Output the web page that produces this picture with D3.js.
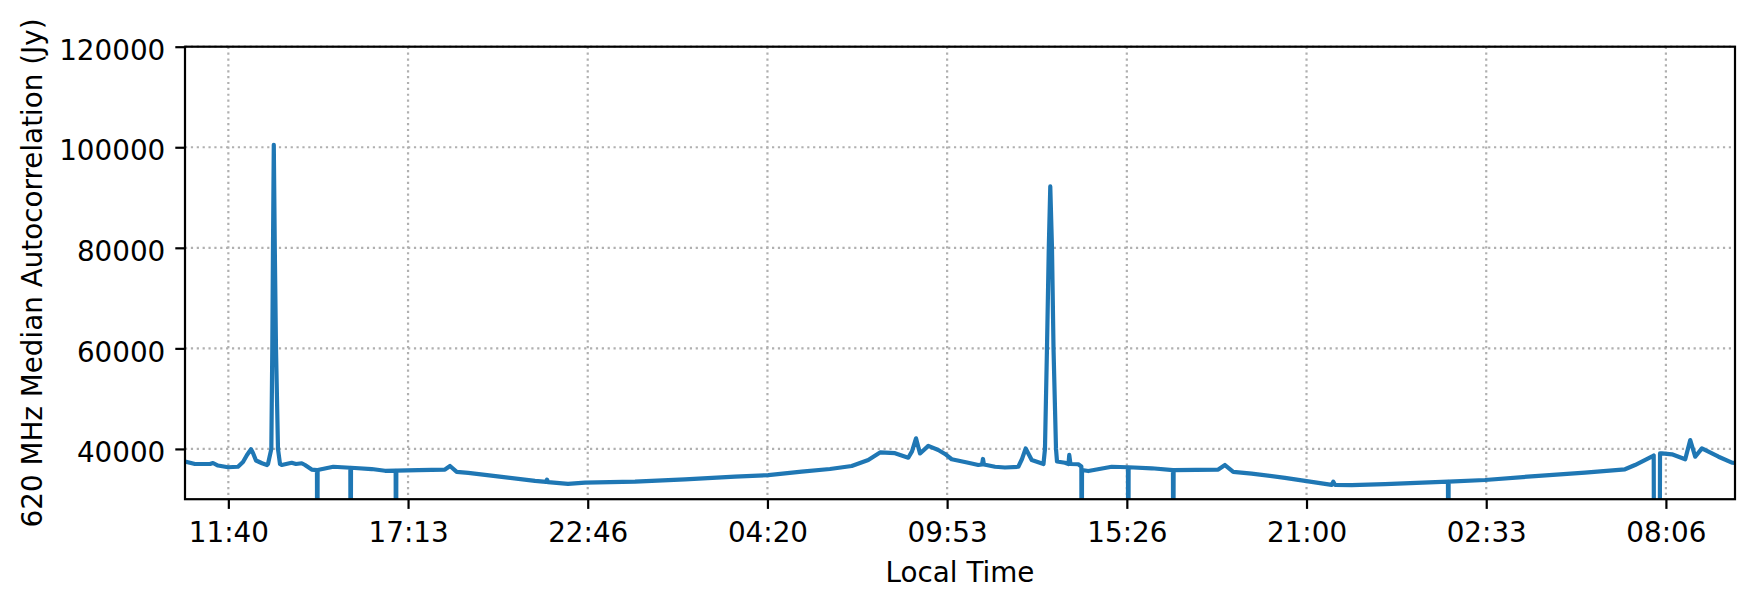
<!DOCTYPE html>
<html>
<head>
<meta charset="utf-8">
<script src="https://cdn.jsdelivr.net/npm/d3@7"></script>
<style>
  html, body { margin: 0; padding: 0; background: #ffffff; }
  svg { display: block; }
  text { font-family: "DejaVu Sans", sans-serif; fill: #000; }
</style>
</head>
<body>
<svg id="chart" width="1758" height="607"></svg>
<script>
// ---- data (hours since 10:20 local time) ----
const timeHours = [
  0, 0.309, 0.773, 0.866, 1.020, 1.330, 1.638, 1.793, 1.917, 2.041, 2.102, 2.195, 2.381, 2.535,
  2.566, 2.669, 2.699, 2.720, 2.745, 2.776, 2.813, 2.875, 2.937,
  2.990, 3.298, 3.431, 3.608, 3.710, 3.917,
  4.080, 4.090, 4.100,
  4.585, 5.112, 5.122, 5.132,
  5.772, 6.184, 6.513, 6.523, 6.533,
  7.213, 8.038, 8.193, 8.400, 8.758, 9.792, 10.821, 11.161, 11.192, 11.223, 11.841, 12.366,
  13.913, 15.458, 17.003, 18.034, 19.066, 19.940, 20.612, 21.124, 21.487, 21.950, 22.361,
  22.476, 22.600, 22.724, 22.980, 23.289, 23.496, 23.703, 24.216, 24.526, 24.640, 24.670, 24.701,
  25.043, 25.351, 25.763, 25.877, 25.991, 26.177,
  26.541, 26.587, 26.649, 26.705, 26.751, 26.804, 26.851, 26.928, 26.959,
  27.205, 27.314, 27.338, 27.375, 27.617,
  27.712, 27.722, 27.732,
  27.926, 28.650,
  29.153, 29.163, 29.173,
  29.886,
  30.544, 30.554, 30.564,
  31.945, 32.152, 32.408, 32.978, 34.008, 34.626, 35.451, 35.501, 35.553, 36.069, 37.100,
  39.046, 39.056, 39.066,
  40.191, 41.737, 43.283, 44.519, 44.829, 45.345, 45.407,
  45.423, 45.586,
  45.602, 45.660, 45.970, 46.381, 46.536, 46.690, 46.897, 47.411, 47.825, 47.920
];
const autocorrJy = [
  37500, 37000, 37000, 37200, 36700, 36350, 36450, 37400, 38800, 39950, 39200, 37700, 37150, 36800,
  37000, 40000, 60000, 80000, 100500, 80000, 60000, 40000, 37000,
  36800, 37250, 37000, 37150, 36800, 35900,
  35800, 0, 35800,
  36450, 36250, 0, 36250,
  36000, 35650, 35700, 0, 35700,
  35800, 35900, 36600, 35450, 35250, 34450, 33650, 33450, 33900, 33400, 33050, 33300,
  33480, 33950, 34480, 34800, 35470, 36000, 36600, 37800, 39300, 39150, 38250,
  39500, 42100, 39100, 40600, 39800, 39000, 37950, 37250, 36800, 36900, 38000, 36900,
  36450, 36300, 36450, 38000, 40100, 37800,
  37000, 40000, 60000, 80000, 92200, 80000, 60000, 40000, 37500,
  37250, 37000, 38800, 37000, 36950,
  36500, 0, 35800,
  35600, 36450,
  36350, 0, 36350,
  36150,
  35800, 0, 35800,
  35900, 36800, 35450, 35100, 34250, 33650, 32850, 33500, 32850, 32800, 33000,
  33480, 0, 33480,
  33820, 34600, 35270, 35950, 36800, 38450, 38700,
  0, 0,
  39100, 39130, 38930, 37950, 41770, 38450, 40120, 38450, 37260, 37200
];
const xTickHours = [1.340, 6.896, 12.451, 18.007, 23.562, 29.118, 34.673, 40.229, 45.784];
const xTickLabels = ["11:40", "17:13", "22:46", "04:20", "09:53", "15:26", "21:00", "02:33", "08:06"];
const yTickValues = [40000, 60000, 80000, 100000, 120000];
const xDomain = [0, 47.92];
const yDomain = [30000, 120000];

// ---- layout ----
const L = 185, R = 1735, T = 46.7, B = 499.2;
const FS = 27.8;
const svg = d3.select("#chart");

const x = d3.scaleLinear().domain(xDomain).range([L, R]);
const y = d3.scaleLinear().domain(yDomain).range([B, T]);

// grid
const grid = svg.append("g").attr("stroke", "#b0b0b0").attr("stroke-width", 2.2)
  .attr("stroke-dasharray", "2.2,3.67").attr("fill", "none");
grid.selectAll("line.gx").data(xTickHours).join("line").attr("class", "gx")
  .attr("x1", d => x(d)).attr("x2", d => x(d)).attr("y1", T).attr("y2", B);
grid.selectAll("line.gy").data(yTickValues).join("line").attr("class", "gy")
  .attr("x1", L).attr("x2", R).attr("y1", d => y(d)).attr("y2", d => y(d));

// clip
svg.append("defs").append("clipPath").attr("id", "plotclip")
  .append("rect").attr("x", L).attr("y", T).attr("width", R - L).attr("height", B - T);

// series
const pts = timeHours.map((h, i) => [h, autocorrJy[i]]);
const line = d3.line().x(d => x(d[0])).y(d => y(d[1]));
svg.append("path").datum(pts)
  .attr("clip-path", "url(#plotclip)")
  .attr("d", line)
  .attr("fill", "none")
  .attr("stroke", "#1f77b4")
  .attr("stroke-width", 4.2)
  .attr("stroke-linejoin", "round");

// axes
const xAxis = d3.axisBottom(x).tickValues(xTickHours)
  .tickFormat((d, i) => xTickLabels[i]).tickSize(9.7).tickPadding(13.6);
const gx = svg.append("g").attr("transform", `translate(0,${B})`).call(xAxis);
gx.select(".domain").remove();
gx.selectAll(".tick line").attr("stroke", "#000").attr("stroke-width", 2.2);
gx.selectAll(".tick text").attr("font-size", FS).attr("font-family", "DejaVu Sans");

const yAxis = d3.axisLeft(y).tickValues(yTickValues).tickFormat(d3.format("d"))
  .tickSize(9.7).tickPadding(10);
const gy = svg.append("g").attr("transform", `translate(${L},0)`).call(yAxis);
gy.select(".domain").remove();
gy.selectAll(".tick line").attr("stroke", "#000").attr("stroke-width", 2.2);
gy.selectAll(".tick text").attr("font-size", FS).attr("font-family", "DejaVu Sans").attr("dy", "12.7px");

// frame
svg.append("rect").attr("x", L).attr("y", T).attr("width", R - L).attr("height", B - T)
  .attr("fill", "none").attr("stroke", "#000").attr("stroke-width", 2.2);

// labels
svg.append("text").attr("x", (L + R) / 2).attr("y", 581.7)
  .attr("text-anchor", "middle").attr("font-size", FS).text("Local Time");
svg.append("text").attr("transform", `translate(42,${(T + B) / 2}) rotate(-90)`)
  .attr("text-anchor", "middle").attr("font-size", FS).text("620 MHz Median Autocorrelation (Jy)");
</script>
</body>
</html>
